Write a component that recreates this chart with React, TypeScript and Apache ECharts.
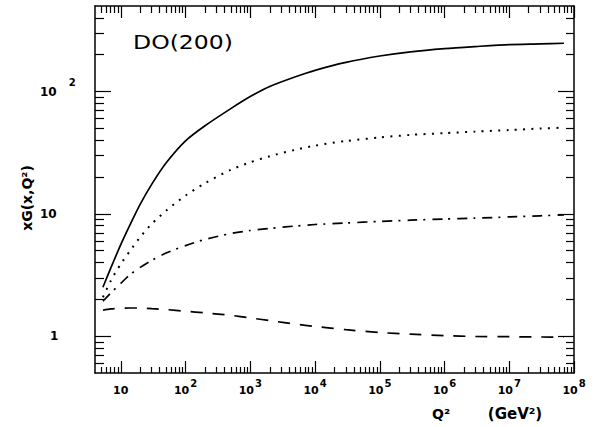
import React, { useEffect, useRef } from 'react';
import * as echarts from 'echarts';

// Q^2 grid (GeV^2) and xG(x,Q^2) values
const Q2 = [5.3, 7, 10, 14, 20, 30, 50, 100, 200, 500, 1e3, 2e3, 5e3, 1e4, 3e4, 1e5, 3e5, 1e6, 3e6, 1e7, 3e7, 7e7];
const solidVals = [2.51, 3.6, 5.6, 8.2, 12.0, 17.4, 26, 39.5, 52.5, 72.5, 91, 110, 132, 149, 173, 195, 211, 224, 233, 242, 245, 248];
const dottedVals = [2.08, 2.83, 3.89, 5.0, 6.47, 8.26, 10.6, 14.1, 17.8, 22.9, 26.4, 29.6, 33.4, 36.1, 39.4, 42.1, 44.2, 45.7, 47, 48.4, 49.8, 50.7];
const dashDotVals = [1.93, 2.25, 2.7, 3.2, 3.65, 4.17, 4.78, 5.5, 6.18, 6.9, 7.31, 7.6, 7.95, 8.18, 8.41, 8.67, 8.87, 9.08, 9.22, 9.44, 9.64, 9.8];
const dashedVals = [1.63, 1.67, 1.69, 1.7, 1.7, 1.68, 1.65, 1.6, 1.55, 1.48, 1.41, 1.34, 1.255, 1.2, 1.13, 1.07, 1.04, 1.01, 0.995, 0.99, 0.985, 0.98];

const X_RANGE = [4, 1e8];
const Y_RANGE = [0.5, 500];
const X_DECADES = [1, 2, 3, 4, 5, 6, 7, 8]; // 10^1 .. 10^8
const Y_DECADES = [0, 1, 2]; // 1, 10, 100

const TITLE = 'DO(200)';
const Y_TITLE = 'xG(x,Q²)';
const X_TITLE_A = 'Q²';
const X_TITLE_B = '(GeV²)';

const lg = (v: number) => Math.log10(v);

function minorTicks(lo: number, hi: number, dFrom: number, dTo: number) {
  const out: number[] = [];
  for (let d = dFrom; d <= dTo; d++) {
    for (let k = 2; k <= 9; k++) {
      const v = k * Math.pow(10, d);
      if (v > lo * 1.001 && v < hi * 0.999) out.push(lg(v));
    }
  }
  return out;
}

export default function App() {
  const ref = useRef<HTMLDivElement>(null);
  useEffect(() => {
    if (!ref.current) return;
    const chart = echarts.init(ref.current, undefined, { renderer: 'svg' });
    const xMin = lg(X_RANGE[0]);
    const xMax = lg(X_RANGE[1]);
    const yMin = lg(Y_RANGE[0]);
    const yMax = lg(Y_RANGE[1]);
    const xMinor = minorTicks(X_RANGE[0], X_RANGE[1], 0, 7);
    const yMinor = minorTicks(Y_RANGE[0], Y_RANGE[1], -1, 2);
    const black = '#000';
    const font = '"DejaVu Sans", sans-serif';

    const mkX = (pos: string, values: number[], len: number, main: boolean, labels: boolean) => ({
      type: 'value',
      min: xMin,
      max: xMax,
      position: pos,
      axisLine: { show: main, onZero: false, lineStyle: { color: black, width: 1.5 } },
      axisTick: { show: true, inside: true, length: len, customValues: values, lineStyle: { color: black, width: 1.2 } },
      axisLabel: labels
        ? {
            show: true,
            customValues: values,
            margin: 5,
            formatter: (v: number) => {
              const e = Math.round(v);
              return e === 1 ? '{b|10}' : '{b|10}{s|' + e + '}';
            },
            rich: {
              b: { fontSize: 11, fontWeight: 'bold', fontFamily: font, color: black, lineHeight: 24 },
              s: { fontSize: 10, fontWeight: 'bold', fontFamily: font, color: black, padding: [0, 0, 14, 1] },
            },
          }
        : { show: false },
      splitLine: { show: false },
    });

    const mkY = (pos: string, values: number[], len: number, main: boolean, labels: boolean) => ({
      type: 'value',
      min: yMin,
      max: yMax,
      position: pos,
      axisLine: { show: main, onZero: false, lineStyle: { color: black, width: 1.5 } },
      axisTick: { show: true, inside: true, length: len, customValues: values, lineStyle: { color: black, width: 1.2 } },
      axisLabel: labels
        ? {
            show: true,
            customValues: values,
            align: 'left',
            margin: 55,
            formatter: (v: number) => {
              const e = Math.round(v);
              if (e === 0) return '{one|1}';
              if (e === 1) return '{b|10}';
              return '{b|10}{s|' + e + '}';
            },
            rich: {
              b: { fontSize: 12, fontWeight: 'bold', fontFamily: font, color: black, lineHeight: 30 },
              one: { fontSize: 12, fontWeight: 'bold', fontFamily: font, color: black, lineHeight: 30, padding: [0, 0, 0, 10] },
              s: { fontSize: 10, fontWeight: 'bold', fontFamily: font, color: black, padding: [0, 0, 18, 12] },
            },
          }
        : { show: false },
      splitLine: { show: false },
    });

    const mkData = (vals: number[]) => Q2.map((q, i) => [lg(q), lg(vals[i])]);
    const line = (name: string, vals: number[], type: any, width: number) => ({
      name,
      type: 'line',
      xAxisIndex: 0,
      yAxisIndex: 0,
      data: mkData(vals),
      showSymbol: false,
      symbol: 'none',
      smooth: 0.25,
      lineStyle: { color: black, width, type, cap: 'butt' },
    });

    chart.setOption({
      animation: false,
      backgroundColor: '#fff',
      grid: { left: 95, top: 6, width: 479, height: 367 },
      xAxis: [
        mkX('bottom', X_DECADES, 12, true, true),
        mkX('bottom', xMinor, 6, false, false),
        mkX('top', X_DECADES, 12, true, false),
        mkX('top', xMinor, 7, false, false),
      ],
      yAxis: [
        mkY('left', Y_DECADES, 16, true, true),
        mkY('left', yMinor, 9, false, false),
        mkY('right', Y_DECADES, 16, true, false),
        mkY('right', yMinor, 8, false, false),
      ],
      series: [
        line('solid', solidVals, 'solid', 1.7),
        line('dotted', dottedVals, [2, 6.3], 2),
        line('dashdot', dashDotVals, [10, 6, 2, 7], 1.7),
        line('dashed', dashedVals, [12, 10], 1.7),
      ],
      graphic: [
        {
          type: 'text',
          x: 133,
          y: 42,
          scaleX: 1.24,
          style: { text: TITLE, font: '19px "DejaVu Sans"', fill: black, align: 'left', verticalAlign: 'middle' },
        },
        {
          type: 'text',
          x: 27,
          y: 198,
          rotation: Math.PI / 2,
          style: { text: Y_TITLE, font: 'bold 14px "DejaVu Sans"', fill: black, align: 'center', verticalAlign: 'middle' },
        },
        {
          type: 'text',
          x: 441,
          y: 414,
          style: { text: X_TITLE_A, font: 'bold 14px "DejaVu Sans"', fill: black, align: 'center', verticalAlign: 'middle' },
        },
        {
          type: 'text',
          x: 515,
          y: 414,
          style: { text: X_TITLE_B, font: 'bold 15px "DejaVu Sans"', fill: black, align: 'center', verticalAlign: 'middle' },
        },
      ],
    });
    return () => chart.dispose();
  }, []);
  return <div ref={ref} style={{ position: 'fixed', left: 0, top: 0, width: 603, height: 427, background: '#fff' }} />;
}
